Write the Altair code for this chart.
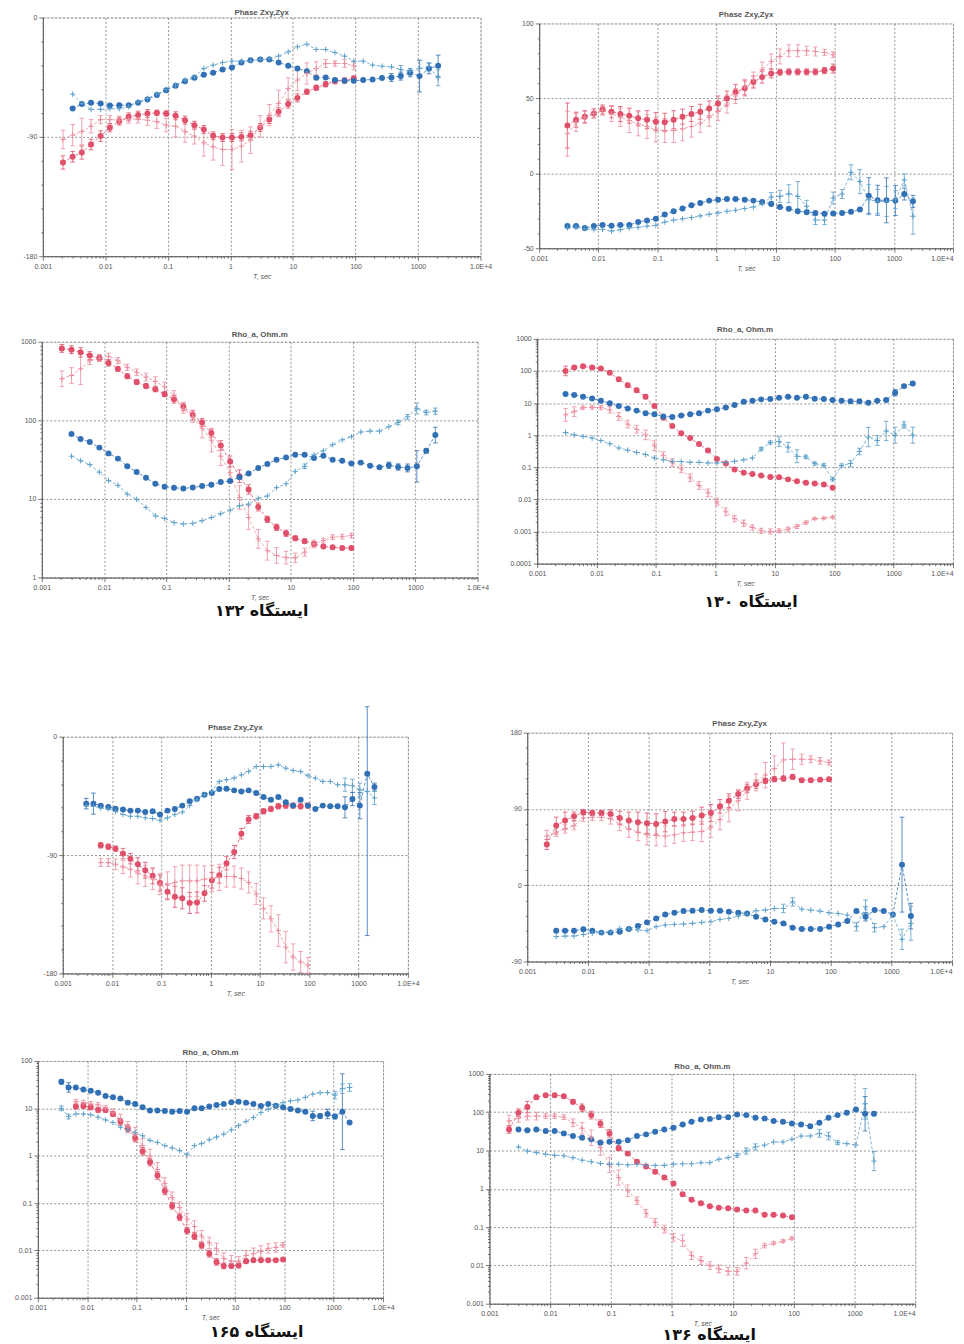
import json
import altair as alt
import pandas as pd

# ---------------- data ----------------
PERIODS = [0.0021, 0.003, 0.0042, 0.0059, 0.0084, 0.0118, 0.0167, 0.0236, 0.0334, 0.0472,
           0.0667, 0.094, 0.133, 0.188, 0.266, 0.376, 0.53, 0.75, 1.06, 1.5,
           2.1, 3.0, 4.2, 5.9, 8.4, 11.8, 16.7, 23.6, 33.4, 47,
           67, 94, 133, 188, 266, 376, 530, 750, 1060, 1500, 2100]
X_LABELS = ["0.001", "0.01", "0.1", "1", "10", "100", "1000", "1.0E+4"]
RHO_LABELS = ["0.0001", "0.001", "0.01", "0.1", "1", "10", "100", "1000"]
CAPTIONS = ["ایستگاه ۱۳۲", "ایستگاه ۱۳۰", "ایستگاه ۱۶۵", "ایستگاه ۱۳۶"]
TITLE_PHASE = "Phase Zxy,Zyx"
TITLE_RHO = "Rho_a, Ohm.m"
X_TITLE = "T, sec"

# station 132 phase
PH132_RC = [-109.3, -105, -101.8, -95.7, -89.4, -83.2, -78.1, -74.9, -73.6, -72.4, -71.9, -72.4, -74.1, -77.4, -81.2, -84.4, -89.2, -90.5, -90.5, -90, -88.7, -82.9, -76.9, -71.1, -65.3, -60.6, -56, -53, -50.3, -48, -47.5, -46]
PH132_RC_ERR = [5, 4, 5, 4, 4, 3, 3, 3, 3, 3, 2, 2, 3, 3, 3, 3, 3, 3, 3, 3, 3, 3, 3, 3, 3, 3, 2, 2, 2, 2, 2, 2]
PH132_RX = [-92, -88.7, -86, -82, -77, -77, -77.4, -76.6, -76.6, -77.4, -78.6, -81.2, -82, -86, -89.4, -94.5, -97.5, -99.5, -99.5, -97, -92.5, -82, -73.6, -64.8, -53.5, -47.2, -42.2, -38.4, -34.7, -34.7, -34.7, -36.4]
PH132_RX_ERR = [7, 8, 10, 5, 3, 3, 3, 3, 3, 4, 5, 5, 8, 8, 6, 10, 10, 12, 15, 12, 10, 8, 8, 10, 8, 8, 8, 5, 3, 2, 3, 3]
PH132_BC = [-68.6, -65.3, -64.3, -64.8, -66.3, -66.1, -66.1, -64.3, -61.8, -58.5, -54.8, -51.5, -48, -45.5, -43.2, -41.7, -39.2, -37.7, -33.9, -32.2, -31.7, -31.7, -33.9, -36.4, -38.4, -40.5, -45.5, -45.2, -47.2, -47.7, -47.7, -47.2, -46.7, -45.7, -45.2, -44.2, -41.7, -44.2, -38.4, -36.4]
PH132_BC_ERR = {35: 3, 36: 3, 37: 3, 38: 12, 39: 4, 40: 8}
PH132_BX = [-57.8, -64.8, -69.3, -69.3, -68.8, -68.8, -67.3, -63.6, -61, -57.8, -54.3, -51, -47.2, -44.7, -38.4, -35.9, -33.9, -32.9, -32.9, -32.7, -31.7, -30.9, -29.1, -25.9, -22.1, -20.1, -24.1, -24.1, -26.4, -29.1, -32.9, -32.9, -35.9, -36.7, -37.2, -39.2, -40.5, -38.4, -37.2, -45.5]
PH132_BX_ERR = {36: 3, 37: 2, 38: 6, 39: 3, 40: 6}

# station 130 phase
PH130_RC = [31.9, 35.8, 37.8, 40, 42.6, 41.1, 39.6, 38.5, 36.7, 35.8, 34.5, 34.1, 35.8, 37.8, 39.6, 41.1, 43.3, 46.6, 49.9, 54.3, 56.7, 60.9, 64.2, 66.6, 67.5, 67.7, 67.7, 67.7, 67.7, 68.6, 69.9]
PH130_RC_ERR = [15, 5, 4, 3, 3, 4, 5, 5, 5, 6, 6, 6, 6, 5, 5, 5, 5, 5, 5, 5, 5, 4, 4, 3, 2, 2, 2, 2, 2, 2, 3]
PH130_RX = [26.4, 34, 37.4, 40, 41.8, 39.6, 37.4, 35.2, 33, 31.2, 29, 28.6, 28.6, 29.7, 31.2, 33.4, 37.4, 41.3, 46.2, 51.6, 57.6, 62.6, 69.2, 74.7, 78, 81.8, 81.8, 81.8, 81.3, 80.7, 79.1]
PH130_RX_ERR = [15, 6, 4, 3, 3, 5, 6, 8, 8, 8, 8, 8, 8, 8, 7, 6, 6, 6, 6, 5, 5, 5, 5, 5, 5, 4, 4, 3, 3, 2, 2]
PH130_BC = [-35.2, -35.2, -36.5, -35.2, -34.5, -34.9, -34.5, -34.5, -32.5, -31.4, -30.3, -27.5, -25.3, -23.5, -21.3, -19.8, -18.2, -17.6, -17.1, -17.1, -17.6, -18.2, -19.1, -20.4, -22.4, -23.7, -25.3, -25.9, -26.4, -27, -26.8, -26.4, -25.7, -24.2, -14.9, -18, -18, -18.2, -13.8, -18.7]
PH130_BC_ERR = {35: 12, 36: 10, 37: 15, 38: 10, 39: 4, 40: 4}
PH130_BX = [-36.5, -36, -37, -37.6, -37.4, -38.5, -37.6, -36.5, -36, -35.2, -34.7, -32.5, -31.2, -30.3, -29.5, -28.4, -27.3, -26.4, -25.3, -24.6, -23.5, -22.5, -20.4, -15.8, -15.4, -13.6, -15.4, -22, -31.2, -31.2, -16.5, -13.8, 0.7, -5.5, -17.6, -18.7, -18.7, -17.6, -4.4, -28.6]
PH130_BX_ERR = {24: 3, 25: 4, 26: 6, 27: 10, 28: 4, 29: 3, 30: 3, 31: 4, 32: 3, 33: 5, 34: 8, 35: 10, 36: 8, 37: 10, 38: 6, 39: 4, 40: 12}

# station 132 apparent resistivity (errors in decades)
RH132_RC = [824, 793, 734, 667, 623, 538, 452, 365, 307, 273, 248, 215, 186, 149, 117, 94, 69, 48, 30, 19.5, 13.2, 7.9, 5.5, 4.35, 3.66, 3.16, 2.9, 2.68, 2.48, 2.43, 2.37, 2.37]
RH132_RC_ERR = [0.05, 0.05, 0.06, 0.05, 0.04, 0.04, 0.03, 0.03, 0.03, 0.03, 0.03, 0.03, 0.05, 0.05, 0.06, 0.05, 0.05, 0.06, 0.07, 0.08, 0.06, 0.05, 0.04, 0.04, 0.04, 0.03, 0.03, 0.03, 0.02, 0.02, 0.02, 0.02]
RH132_RX = [338, 372, 452, 575, 617, 653, 575, 474, 410, 355, 313, 266, 208, 142, 111, 79, 56, 35, 21.5, 10.4, 5.8, 3.1, 2.2, 1.91, 1.79, 1.78, 2.1, 2.68, 2.96, 3.26, 3.32, 3.42]
RH132_RX_ERR = [0.1, 0.1, 0.2, 0.05, 0.04, 0.04, 0.04, 0.04, 0.04, 0.05, 0.06, 0.06, 0.06, 0.06, 0.07, 0.12, 0.15, 0.12, 0.12, 0.15, 0.15, 0.12, 0.12, 0.1, 0.08, 0.06, 0.05, 0.05, 0.03, 0.03, 0.03, 0.03]
RH132_BC = [67, 58, 53, 45, 38, 32.6, 26, 22, 18.6, 15.6, 14.3, 13.9, 13.6, 14, 14.6, 15.2, 16.4, 16.9, 18.9, 21.1, 24.8, 27.9, 31.6, 33.8, 36.6, 36.6, 33.2, 35.5, 31.6, 30.7, 28.2, 29, 26.5, 25.3, 26.8, 25.5, 24.8, 26, 41, 65]
RH132_BC_ERR = {35: 0.04, 36: 0.04, 37: 0.05, 38: 0.2, 39: 0.03, 40: 0.1}
RH132_BX = [35, 30.7, 27.4, 21.9, 17.2, 14.9, 11.5, 9.9, 7.8, 6.1, 5.65, 5.0, 4.8, 4.9, 5.3, 5.8, 6.5, 7.2, 8.2, 8.6, 10.2, 10.9, 13.9, 15.6, 22.5, 26, 36.6, 41, 49, 56.5, 62, 71, 73, 73, 83, 94, 111, 142, 126, 131]
RH132_BX_ERR = {26: 0.03, 36: 0.03, 37: 0.03, 38: 0.07, 39: 0.03, 40: 0.04}

# station 130 apparent resistivity
RH130_RC = [100, 127, 139, 127, 118, 87, 55, 36, 25, 15.7, 8.1, 3.5, 1.94, 1.15, 0.81, 0.53, 0.33, 0.18, 0.13, 0.085, 0.067, 0.062, 0.055, 0.05, 0.049, 0.042, 0.037, 0.033, 0.031, 0.029, 0.023]
RH130_RC_ERR = [0.15, 0.05, 0.04, 0.04, 0.04, 0.05, 0.05, 0.06, 0.06, 0.06, 0.05, 0.04, 0.03, 0.03, 0.03, 0.03, 0.03, 0.03, 0.03, 0.03, 0.03, 0.03, 0.03, 0.03, 0.03, 0.03, 0.03, 0.03, 0.03, 0.03, 0.04]
RH130_RX = [4.3, 5.4, 7.2, 7.3, 7.2, 6.1, 3.8, 2.2, 1.53, 1.02, 0.47, 0.23, 0.14, 0.089, 0.047, 0.027, 0.016, 0.0083, 0.0041, 0.0025, 0.0018, 0.00133, 0.00105, 0.001, 0.00105, 0.00118, 0.00143, 0.0019, 0.0025, 0.0026, 0.0028]
RH130_RX_ERR = [0.2, 0.15, 0.05, 0.05, 0.06, 0.1, 0.12, 0.12, 0.12, 0.15, 0.15, 0.12, 0.12, 0.12, 0.12, 0.12, 0.12, 0.12, 0.12, 0.1, 0.1, 0.08, 0.08, 0.08, 0.06, 0.06, 0.06, 0.05, 0.03, 0.03, 0.03]
RH130_BC = [19, 17.7, 15.7, 13.9, 11.8, 9.8, 8.1, 6.8, 5.8, 4.8, 4.5, 3.8, 3.7, 4.1, 4.5, 4.8, 5.8, 6.4, 7.3, 8.7, 11, 11.8, 13, 13.3, 14.6, 15.7, 14.6, 15.7, 13.6, 13.3, 12.4, 11.8, 11.3, 11.3, 10.2, 11.8, 12.4, 20.9, 33.6, 40.5]
RH130_BC_ERR = {37: 0.05, 38: 0.1, 39: 0.05, 40: 0.06}
RH130_BX = [1.21, 1.02, 0.91, 0.81, 0.68, 0.54, 0.40, 0.34, 0.29, 0.25, 0.195, 0.17, 0.153, 0.15, 0.143, 0.143, 0.136, 0.136, 0.143, 0.153, 0.17, 0.195, 0.37, 0.59, 0.63, 0.42, 0.22, 0.21, 0.13, 0.115, 0.042, 0.113, 0.13, 0.31, 0.87, 0.68, 1.35, 1.0, 2.08, 1.0]
RH130_BX_ERR = {23: 0.05, 24: 0.05, 25: 0.15, 26: 0.15, 27: 0.2, 28: 0.05, 29: 0.05, 30: 0.05, 31: 0.05, 32: 0.05, 33: 0.1, 34: 0.1, 35: 0.3, 36: 0.15, 37: 0.3, 38: 0.25, 39: 0.1, 40: 0.25}

# station 165 phase
PH165_RC = [-82.6, -83.6, -85.1, -88.9, -92.7, -97, -101.5, -105.8, -111.3, -117.9, -121.7, -122.9, -126.4, -126, -119.1, -109.1, -105.3, -96.2, -87.7, -73.8, -63, -60.5, -56.7, -54.9, -52.9, -52.4, -52.4, -52.9, -52.4]
PH165_RC_ERR = [2, 2, 2, 4, 4, 5, 6, 6, 6, 6, 8, 8, 8, 8, 6, 6, 6, 5, 5, 4, 3, 2, 2, 2, 2, 2, 2, 2, 2]
PH165_RX = [-95.7, -95.7, -97, -99, -100.8, -103.8, -105.8, -108.3, -112.1, -112.8, -110.8, -109.6, -109.6, -109.6, -108.3, -107.8, -107, -106.3, -106.3, -107.8, -110.8, -119.6, -130.5, -138.5, -147.4, -160, -167.5, -171.3, -173.8]
PH165_RX_ERR = [3, 3, 4, 5, 6, 8, 8, 8, 8, 10, 12, 12, 12, 12, 10, 10, 10, 8, 8, 8, 8, 8, 8, 10, 12, 12, 10, 8, 6]
PH165_BC = [-50.9, -50.9, -52.4, -53.4, -54.7, -55.4, -56.2, -56.2, -57.2, -56.7, -59.2, -56.2, -54.9, -52.4, -49.1, -47.1, -44.1, -42.8, -39.8, -39.5, -40.8, -41.6, -40.8, -42.8, -45.8, -47.9, -45.8, -49.9, -52.4, -47.9, -52.4, -54.9, -52.4, -52.9, -52.9, -53.7, -47.4, -52.4, -28.2, -38.3]
PH165_BC_ERR = {1: 4, 2: 8, 36: 8, 37: 5, 38: 10, 39: [123, 51], 40: 3}
PH165_BX = [-52.4, -52.9, -54.2, -54.9, -56.7, -59.2, -60.5, -60.5, -61.7, -62.2, -63.5, -61.7, -59.2, -57.4, -52.4, -47.9, -44.1, -41.6, -34, -32.7, -31.5, -29, -26.4, -22.7, -22.7, -22.7, -21.4, -23.9, -25.7, -26.4, -29.7, -31.5, -34, -34, -36.5, -36.5, -37.3, -40.3, -41.6, -46.6]
PH165_BX_ERR = {36: 5, 37: 5, 38: 5, 40: 5}

# station 136 phase
PH136_RC = [48.1, 70.4, 76.3, 81.4, 86.1, 85.3, 85.3, 84.1, 79.4, 76.3, 74.3, 73.2, 72.4, 75.1, 78.2, 78.2, 79.4, 82.2, 85.3, 93.1, 99.8, 107.6, 114.2, 119.3, 123.2, 125.2, 126, 127.9, 124, 124, 124.4, 125.2]
PH136_RC_ERR = [6, 10, 10, 5, 3, 3, 3, 5, 8, 10, 12, 12, 12, 12, 8, 8, 8, 10, 10, 8, 8, 5, 5, 5, 3, 3, 3, 3, 2, 2, 2, 2]
PH136_RX = [57.9, 62.6, 66.5, 70.4, 79.4, 80.2, 80.2, 78.2, 72.4, 66.5, 62.6, 59.5, 58.7, 57.9, 59.5, 61.8, 62.6, 63.4, 68.5, 77.5, 90, 99.8, 111.5, 121.3, 129.9, 137.7, 147.9, 148.7, 148.7, 148.7, 146.7, 144.8]
PH136_RX_ERR = [7, 5, 5, 5, 4, 4, 4, 6, 8, 10, 10, 12, 12, 12, 10, 10, 10, 12, 12, 12, 15, 12, 10, 10, 15, 15, 20, 12, 6, 4, 4, 3]
PH136_BC = [-53.6, -53.6, -53.6, -52, -53.6, -55.9, -55.9, -54.8, -51.6, -48.1, -43.8, -39.1, -34.4, -32.5, -30.5, -30.1, -29.3, -30.1, -30.1, -31.3, -32.5, -33.3, -37.2, -40.3, -43, -45, -50.1, -51.6, -51.6, -51.6, -48.9, -46.2, -42.3, -30.5, -37.2, -29.3, -30.5, -34.4, 24.3, -36.4]
PH136_BC_ERR = {35: 5, 39: 56, 40: 15}
PH136_BX = [-60.6, -60, -59.9, -58, -56.7, -55.5, -54.8, -50.9, -51.6, -52.8, -53.6, -48.9, -46.9, -46.2, -45.8, -45, -43.8, -43, -40.3, -39.1, -36.4, -34.4, -30.1, -29.3, -27.4, -27.4, -19.6, -28.2, -29.3, -30.5, -32.5, -33.3, -35.2, -48.9, -25.4, -50.1, -48.9, -35.2, -63.8, -45]
PH136_BX_ERR = {26: 5, 27: 5, 34: 5, 35: 8, 36: 5, 39: 12, 40: 20}

# station 165 apparent resistivity
RH165_RC = [10.9, 11.2, 10.5, 9.2, 9.2, 7.6, 5.3, 3.8, 2.36, 1.24, 0.73, 0.38, 0.18, 0.087, 0.05, 0.026, 0.02, 0.0127, 0.0085, 0.0057, 0.0047, 0.0047, 0.0048, 0.0059, 0.0062, 0.0062, 0.0062, 0.0062, 0.0064]
RH165_RC_ERR = [0.05, 0.05, 0.05, 0.05, 0.05, 0.05, 0.06, 0.07, 0.08, 0.08, 0.08, 0.08, 0.08, 0.07, 0.07, 0.07, 0.07, 0.07, 0.07, 0.07, 0.06, 0.05, 0.05, 0.05, 0.04, 0.03, 0.03, 0.03, 0.03]
RH165_RX = [13.8, 13.2, 12.4, 11.8, 10, 8.1, 5.7, 4.0, 2.8, 1.63, 0.97, 0.51, 0.26, 0.13, 0.08, 0.046, 0.032, 0.02, 0.0144, 0.0108, 0.0067, 0.0059, 0.0059, 0.0078, 0.0085, 0.0095, 0.011, 0.0115, 0.0131]
RH165_RX_ERR = [0.05, 0.05, 0.05, 0.05, 0.06, 0.08, 0.12, 0.12, 0.15, 0.15, 0.15, 0.15, 0.12, 0.12, 0.12, 0.12, 0.12, 0.12, 0.12, 0.12, 0.12, 0.12, 0.1, 0.1, 0.12, 0.12, 0.1, 0.1, 0.05]
RH165_BC = [36.3, 27.6, 27.6, 25.1, 23.5, 21.4, 18.2, 17.1, 16.2, 13.2, 12.4, 10.5, 9, 9, 8.8, 8.5, 8.8, 8.5, 10, 10, 10.9, 11.8, 12.4, 13.4, 13.8, 13.2, 12.4, 11.2, 12.4, 11.4, 10.5, 9.7, 9, 8.5, 6.9, 6.9, 7.6, 6.7, 8.5, 5.0]
RH165_BC_ERR = {1: 0.05, 2: 0.1, 35: 0.1, 36: 0.05, 37: 0.1, 38: 0.05, 39: 0.8}
RH165_BX = [10, 6.7, 7.6, 7.6, 7.3, 6.5, 5.7, 5.0, 4.0, 3.5, 3.1, 2.64, 2.1, 1.91, 1.63, 1.46, 1.28, 1.05, 1.63, 1.8, 2.18, 2.48, 2.86, 3.5, 4.3, 5.3, 6.4, 8.1, 9.6, 11.2, 13.2, 14.3, 15, 17.1, 20, 21.4, 21.5, 19, 26, 27.6]
RH165_BX_ERR = {1: 0.05, 2: 0.05, 38: 0.08, 39: 0.1, 40: 0.08}

# station 136 apparent resistivity
RH136_RC = [35.6, 97, 136, 247, 279, 279, 262, 187, 130, 84, 50, 28, 11.4, 8.3, 5.1, 3.8, 2.8, 1.97, 1.37, 0.72, 0.52, 0.42, 0.35, 0.32, 0.31, 0.29, 0.27, 0.27, 0.21, 0.21, 0.20, 0.18]
RH136_RC_ERR = [0.1, 0.1, 0.15, 0.06, 0.04, 0.04, 0.04, 0.06, 0.1, 0.1, 0.1, 0.1, 0.06, 0.05, 0.05, 0.05, 0.05, 0.05, 0.05, 0.04, 0.04, 0.04, 0.03, 0.03, 0.03, 0.03, 0.03, 0.03, 0.03, 0.03, 0.03, 0.03]
RH136_RX = [59, 69, 79, 79, 79, 79, 74, 53, 38, 21.6, 11.9, 4.2, 1.97, 0.89, 0.49, 0.23, 0.133, 0.089, 0.054, 0.044, 0.018, 0.0134, 0.0099, 0.0081, 0.007, 0.007, 0.0114, 0.020, 0.033, 0.038, 0.043, 0.051]
RH136_RX_ERR = [0.15, 0.1, 0.1, 0.1, 0.06, 0.06, 0.06, 0.1, 0.15, 0.2, 0.2, 0.2, 0.2, 0.15, 0.1, 0.1, 0.1, 0.1, 0.1, 0.15, 0.1, 0.1, 0.1, 0.1, 0.1, 0.1, 0.15, 0.12, 0.06, 0.04, 0.04, 0.04]
RH136_BC = [35.6, 33.6, 35.6, 32.2, 32.2, 28, 23.9, 21.6, 19.6, 16, 17, 17, 18.5, 23.9, 26.4, 31, 35.6, 39.4, 48, 56, 65, 67, 74, 74, 87, 84, 72, 69, 59, 56, 51, 48, 43, 53, 72, 84, 97, 118, 91, 91]
RH136_BC_ERR = {39: 0.45, 40: 0.05}
RH136_BX = [12.4, 9.7, 8.8, 8.0, 7.5, 7.3, 6.5, 5.6, 5.1, 4.6, 4.4, 4.4, 4.2, 4.4, 4.1, 4.1, 4.1, 4.4, 4.5, 4.5, 4.8, 4.8, 5.9, 6.5, 7.5, 9.7, 12.4, 13.9, 16.7, 16.7, 19.6, 23.9, 23.9, 28, 23.9, 16, 15.1, 13.9, 166, 5.3]
RH136_BX_ERR = {25: 0.05, 26: 0.08, 27: 0.08, 34: 0.1, 35: 0.1, 36: 0.05, 39: 0.4, 40: 0.25}

# ---------------- styling / layout constants ----------------
FONT = "Liberation Sans"
SERIES = ["xy_c", "xy_x", "yx_c", "yx_x"]
COLORS = ["#e0506a", "#ec8d9e", "#3170b5", "#5c9fc9"]
CAP = "M-1,0L1,0"
PLUS = "M-1,0L1,0M0,-1L0,1"
MAJ_LOG = "abs(log(datum.value)/LN10 - round(log(datum.value)/LN10)) < 0.001"
X_TICKS = [m * 10.0 ** e for e in range(-3, 4) for m in range(1, 10)] + [1e4]

# desired plot-area boxes on the page: x, y, width, height
POS = {
    "A": (40, 17, 440, 240), "B": (537, 23, 416, 226),
    "C": (39, 341, 438, 237), "D": (535, 338, 418, 226),
    "E": (60, 737, 347, 238), "F": (525, 733, 427, 230),
    "G": (35, 1061, 347, 238), "H": (487, 1074, 428, 231),
}
ROWS = [("A", "B"), ("C", "D"), ("E", "F"), ("G", "H")]
ROW_FUDGE = [0, 2, 3, 2]   # measured extra drift per row, removed from the spacer
PAD_L = (26, 40)           # left extents for left / right panel
PAD_T_DEFAULT = 24         # top extent reserved above each plot
PAD_T = {"E": 36}          # E has an error bar above its frame
PAD_B = {"A": 34, "B": 34, "C": 60, "D": 60, "E": 34, "F": 34, "G": 45, "H": 42}
TITLE_DY = {"A": -5, "B": -8, "C": -7, "D": -9, "E": -9, "F": -9, "G": -8, "H": -7}
CAPTION_POS = {"C": (221, 271), "D": (215, 265), "G": (220, 238 + 34), "H": (221, 231 + 31)}
TOP_SHIFT = 6              # rendering offset measured at the top of the page
TOP_PAD = min(POS["A"][1], POS["B"][1]) - 8 - 1 - PAD_T_DEFAULT - TOP_SHIFT


def cond(test, a, b):
    return {"condition": {"test": test, "value": a}, "value": b}


AXIS_STYLE = dict(labelFont=FONT, labelFontSize=7, labelColor="#555", labelPadding=2,
                  domainColor="#555", domainWidth=1, tickColor="#555", tickWidth=0.8,
                  grid=True, gridColor="#666", gridDash=[2, 2], gridWidth=0.7,
                  labelOverlap=False)


def x_axis(right_flush):
    expr = f"{MAJ_LOG} ? {json.dumps(X_LABELS)}[round(log(datum.value)/LN10)+3] : ''"
    extra = {}
    if right_flush:
        extra["labelAlign"] = cond("datum.value > 9999", "right", "center")
    return alt.Axis(values=X_TICKS, labelExpr=expr, title=X_TITLE, titleFont=FONT,
                    titleFontSize=7, titleFontStyle="italic", titleFontWeight="normal",
                    titleColor="#555", titlePadding=3, labelFlush=False,
                    tickSize=cond(MAJ_LOG, 4, 2), gridOpacity=cond(MAJ_LOG, 1, 0),
                    **extra, **AXIS_STYLE)


def y_axis(log, values, major=90):
    if log:
        test = MAJ_LOG
        expr = f"{test} ? {json.dumps(RHO_LABELS)}[round(log(datum.value)/LN10)+4] : ''"
    else:
        test = f"datum.value % {major} === 0"
        expr = f"{test} ? '' + datum.value : ''"
    return alt.Axis(values=values, labelExpr=expr, title=None,
                    tickSize=cond(test, 4, 2), gridOpacity=cond(test, 1, 0), **AXIS_STYLE)


def log_ticks(e0, e1):
    return [m * 10.0 ** e for e in range(e0, e1) for m in range(1, 10)] + [10.0 ** e1]


def build(log, specs):
    rows = []
    for name, start, vals, errs in specs:
        for i, v in enumerate(vals):
            k = start + i
            e = errs[i] if isinstance(errs, list) else errs.get(k, 0)
            elo, ehi = (e[0], e[1]) if isinstance(e, (list, tuple)) else (e, e)
            if log:
                lo, hi = v / 10 ** elo, v * 10 ** ehi
            else:
                lo, hi = v - elo, v + ehi
            rows.append(dict(T=PERIODS[k], v=v, lo=lo, hi=hi, s=name,
                             has_err=bool(elo > 0 or ehi > 0)))
    return pd.DataFrame(rows)


def corner(x, y):
    return alt.Chart(alt.Data(values=[{"c": 0}])).mark_rule(
        color="white", strokeWidth=0.2).encode(
        x=alt.value(x), x2=alt.value(x), y=alt.value(y), y2=alt.value(y))


def label(text, x, y, size, weight, color, font):
    return alt.Chart(alt.Data(values=[{"t": text}])).mark_text(
        font=font, fontSize=size, fontWeight=weight, color=color,
        align="center", baseline="middle").encode(
        text="t:N", x=alt.value(x), y=alt.value(y))


def panel(df, title, title_dy, log, ydom, yvals, major, W, H, pads, right_flush, caption=None):
    padL, padT, padR, padB = pads
    x = alt.X("T:Q", scale=alt.Scale(type="log", domain=[0.001, 10000], nice=False),
              axis=x_axis(right_flush))
    if log:
        ysc = alt.Scale(type="log", domain=ydom, nice=False)
    else:
        ysc = alt.Scale(domain=ydom, nice=False, zero=False)
    yax = y_axis(log, yvals, major)
    col = alt.Color("s:N", scale=alt.Scale(domain=SERIES, range=COLORS), legend=None)
    base = alt.Chart(df)
    line = base.mark_line(strokeWidth=0.8, strokeDash=[3, 2]).encode(
        x=x, y=alt.Y("v:Q", scale=ysc, axis=yax), color=col, detail="s:N")
    eb = base.transform_filter("datum.has_err")
    err = eb.mark_rule(strokeWidth=0.8).encode(
        x=x, y=alt.Y("lo:Q", scale=ysc, axis=yax), y2="hi:Q", color=col)
    cap_lo = eb.mark_point(shape=CAP, size=22, filled=False, strokeWidth=0.8, opacity=1).encode(
        x=x, y=alt.Y("lo:Q", scale=ysc, axis=yax), color=col)
    cap_hi = eb.mark_point(shape=CAP, size=22, filled=False, strokeWidth=0.8, opacity=1).encode(
        x=x, y=alt.Y("hi:Q", scale=ysc, axis=yax), color=col)
    circ = base.transform_filter("indexof(datum.s, '_c') >= 0").mark_point(
        shape="circle", filled=True, size=36, opacity=1).encode(
        x=x, y=alt.Y("v:Q", scale=ysc, axis=yax), color=col)
    cross = base.transform_filter("indexof(datum.s, '_x') >= 0").mark_point(
        shape=PLUS, size=30, filled=False, strokeWidth=1, opacity=1).encode(
        x=x, y=alt.Y("v:Q", scale=ysc, axis=yax), color=col)
    layers = [line, err, cap_lo, cap_hi, circ, cross,
              corner(-padL, -padT), corner(W + padR, H + padB),
              label(title, W / 2, title_dy, 8, "bold", "#555", FONT)]
    if caption is not None:
        text, cx, cy = caption
        layers.append(label(text, cx, cy, 16, "bold", "#111", "DejaVu Sans"))
    return alt.layer(*layers).properties(width=W, height=H)


def blank(w, h):
    return alt.Chart(alt.Data(values=[{"c": 0}])).mark_rule(
        color="white", strokeWidth=0.2).encode(
        x=alt.value(0), x2=alt.value(0), y=alt.value(0), y2=alt.value(0)).properties(
        width=w, height=h, view=alt.ViewBackground(stroke="transparent"))


# ---------------- panels ----------------
PH180 = list(range(-180, 1, 18))
PH130T = list(range(-50, 101, 10))
PH136T = list(range(-90, 181, 18))

DATA = {
    "A": build(False, [("xy_c", 0, PH132_RC, PH132_RC_ERR), ("xy_x", 0, PH132_RX, PH132_RX_ERR),
                       ("yx_c", 1, PH132_BC, PH132_BC_ERR), ("yx_x", 1, PH132_BX, PH132_BX_ERR)]),
    "B": build(False, [("xy_c", 1, PH130_RC, PH130_RC_ERR), ("xy_x", 1, PH130_RX, PH130_RX_ERR),
                       ("yx_c", 1, PH130_BC, PH130_BC_ERR), ("yx_x", 1, PH130_BX, PH130_BX_ERR)]),
    "C": build(True, [("xy_c", 0, RH132_RC, RH132_RC_ERR), ("xy_x", 0, RH132_RX, RH132_RX_ERR),
                      ("yx_c", 1, RH132_BC, RH132_BC_ERR), ("yx_x", 1, RH132_BX, RH132_BX_ERR)]),
    "D": build(True, [("xy_c", 1, RH130_RC, RH130_RC_ERR), ("xy_x", 1, RH130_RX, RH130_RX_ERR),
                      ("yx_c", 1, RH130_BC, RH130_BC_ERR), ("yx_x", 1, RH130_BX, RH130_BX_ERR)]),
    "E": build(False, [("xy_c", 3, PH165_RC, PH165_RC_ERR), ("xy_x", 3, PH165_RX, PH165_RX_ERR),
                       ("yx_c", 1, PH165_BC, PH165_BC_ERR), ("yx_x", 1, PH165_BX, PH165_BX_ERR)]),
    "F": build(False, [("xy_c", 0, PH136_RC, PH136_RC_ERR), ("xy_x", 0, PH136_RX, PH136_RX_ERR),
                       ("yx_c", 1, PH136_BC, PH136_BC_ERR), ("yx_x", 1, PH136_BX, PH136_BX_ERR)]),
    "G": build(True, [("xy_c", 3, RH165_RC, RH165_RC_ERR), ("xy_x", 3, RH165_RX, RH165_RX_ERR),
                      ("yx_c", 1, RH165_BC, RH165_BC_ERR), ("yx_x", 1, RH165_BX, RH165_BX_ERR)]),
    "H": build(True, [("xy_c", 0, RH136_RC, RH136_RC_ERR), ("xy_x", 0, RH136_RX, RH136_RX_ERR),
                      ("yx_c", 1, RH136_BC, RH136_BC_ERR), ("yx_x", 1, RH136_BX, RH136_BX_ERR)]),
}
YSPEC = {
    "A": (TITLE_PHASE, False, [-180, 0], PH180, 90),
    "B": (TITLE_PHASE, False, [-50, 100], PH130T, 50),
    "C": (TITLE_RHO, True, [1, 1000], log_ticks(0, 3), None),
    "D": (TITLE_RHO, True, [0.0001, 1000], log_ticks(-4, 3), None),
    "E": (TITLE_PHASE, False, [-180, 0], PH180, 90),
    "F": (TITLE_PHASE, False, [-90, 180], PH136T, 90),
    "G": (TITLE_RHO, True, [0.001, 100], log_ticks(-3, 2), None),
    "H": (TITLE_RHO, True, [0.001, 1000], log_ticks(-3, 3), None),
}
CAPTION_OF = {"C": CAPTIONS[0], "D": CAPTIONS[1], "G": CAPTIONS[2], "H": CAPTIONS[3]}

row_charts = []
row_y = 8 + TOP_PAD + TOP_SHIFT  # page y of the current row's top
for r, (lk, rk) in enumerate(ROWS):
    cells = []
    bottoms = []
    for c, key in enumerate((lk, rk)):
        x0, y0, W, H = POS[key]
        padT = PAD_T.get(key, PAD_T_DEFAULT)
        h = max(1, y0 - row_y - padT - ROW_FUDGE[r])
        padL = PAD_L[c]
        padR = (POS[rk][0] - (x0 + W) - PAD_L[1]) if c == 0 else 2
        padB = PAD_B[key]
        cap = None
        if key in CAPTION_OF:
            cap = (CAPTION_OF[key],) + CAPTION_POS[key]
        title, log, ydom, yvals, major = YSPEC[key]
        p = panel(DATA[key], title, TITLE_DY[key], log, ydom, yvals, major, W, H,
                  (padL, padT, padR, padB), right_flush=(c == 1), caption=cap)
        cells.append(alt.vconcat(blank(1, h), p, spacing=0))
        bottoms.append(y0 + H + padB)
    lead = blank(max(1, POS[lk][0] - 8 - PAD_L[0]), 1)
    row_charts.append(alt.hconcat(lead, cells[0], cells[1], spacing=0))
    row_y = max(bottoms)

chart = alt.vconcat(*row_charts, spacing=0).properties(
    padding={"top": TOP_PAD, "left": 0, "right": 0, "bottom": 0}
).configure_view(stroke="#666", strokeDash=[2, 2], strokeWidth=0.7).configure(font=FONT)

chart.save("out.html", embed_options={"renderer": "svg", "actions": False})
